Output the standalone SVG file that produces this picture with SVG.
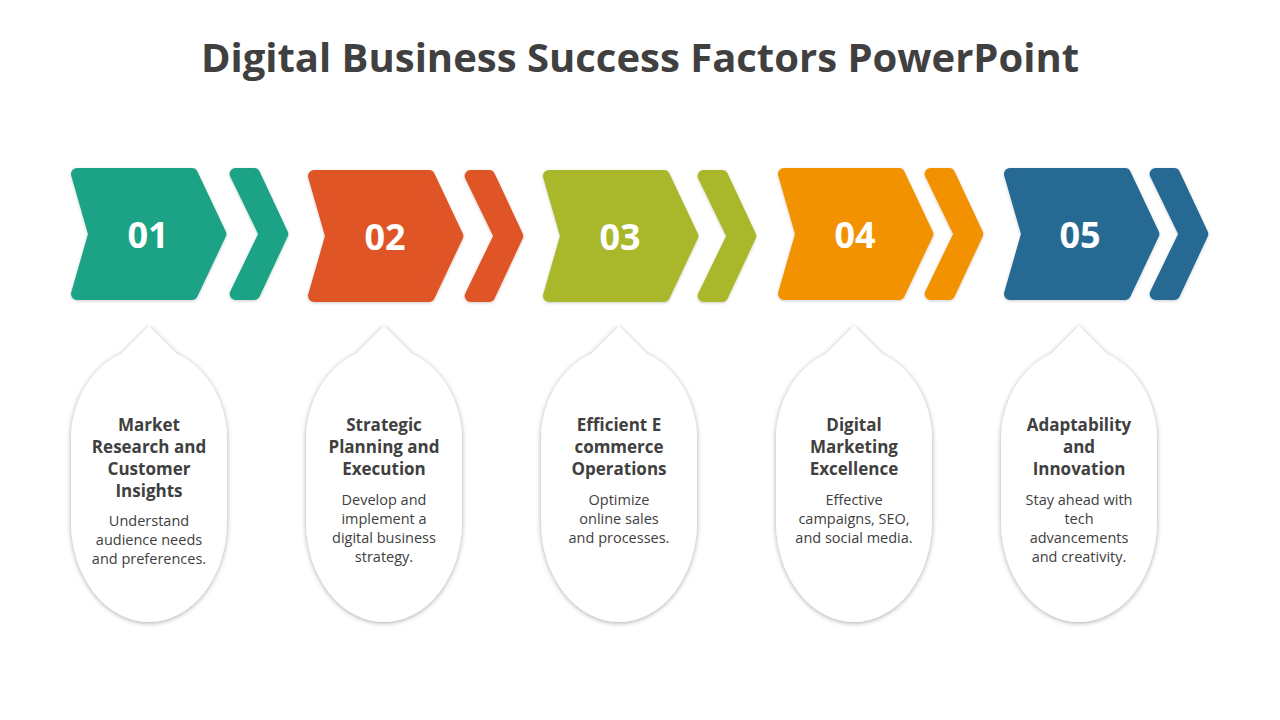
<svg xmlns="http://www.w3.org/2000/svg" width="1280" height="720" viewBox="0 0 1280 720">
<style>
.title{font-family:"Open Sans","Liberation Sans",sans-serif;font-weight:700;font-size:40px;fill:#404040;text-anchor:middle}
.num{font-family:"Open Sans","Liberation Sans",sans-serif;font-weight:700;font-size:36px;fill:#ffffff;text-anchor:middle}
.head{font-family:"Open Sans","Liberation Sans",sans-serif;font-weight:700;font-size:17px;fill:#404040;text-anchor:middle}
.body{font-family:"Open Sans","Liberation Sans",sans-serif;font-weight:400;font-size:14.5px;fill:#404040;text-anchor:middle}
.chev{stroke-width:12;stroke-linejoin:round}
.bubble{fill:#ffffff;filter:url(#bshadow)}
</style>
<defs>
<filter id="bshadow" x="-20%" y="-20%" width="140%" height="140%">
<feDropShadow dx="0" dy="1" stdDeviation="2.5" flood-color="#000000" flood-opacity="0.35"/>
</filter>
<filter id="cshadow" x="-20%" y="-20%" width="140%" height="140%">
<feDropShadow dx="0" dy="1" stdDeviation="1.5" flood-color="#000000" flood-opacity="0.2"/>
</filter>
<path id="main" d="M8,6 L123,6 L151.4,66 L123,126 L8,126 L25.2,66 Z"/>
<path id="small" d="M9.6,6 L28.2,6 L56.3,66 L28.2,126 L9.6,126 L38.7,66 Z"/>
<path id="bub" d="M0,326 L28,354.1 A78 92 0 0 1 78,440 L78,521 A78 101 0 0 1 -78,521 L-78,440 A78 92 0 0 1 -28,354.1 Z"/>
</defs>
<rect width="1280" height="720" fill="#ffffff"/>
<g id="title">
<text class="title" x="640" y="72">Digital Business Success Factors PowerPoint</text>
</g>
<g id="connectors"></g>
<g id="step1">
<g transform="translate(69,168)" fill="#1FA386" stroke="#1FA386" class="chev" filter="url(#cshadow)">
<use href="#main"/>
<use href="#small" x="157"/>
</g>
<text class="num" x="148" y="248">01</text>
<use href="#bub" x="149" class="bubble"/>
<text class="head" x="149" y="431">Market</text>
<text class="head" x="149" y="453">Research and</text>
<text class="head" x="149" y="475">Customer</text>
<text class="head" x="149" y="497">Insights</text>
<text class="body" x="149" y="526">Understand</text>
<text class="body" x="149" y="545">audience needs</text>
<text class="body" x="149" y="564">and preferences.</text>
</g>
<g id="step2">
<g transform="translate(306,170)" fill="#E05427" stroke="#E05427" class="chev" filter="url(#cshadow)">
<use href="#main"/>
<use href="#small" x="155"/>
</g>
<text class="num" x="385" y="250">02</text>
<use href="#bub" x="384" class="bubble"/>
<text class="head" x="384" y="431">Strategic</text>
<text class="head" x="384" y="453">Planning and</text>
<text class="head" x="384" y="475">Execution</text>
<text class="body" x="384" y="505">Develop and</text>
<text class="body" x="384" y="524">implement a</text>
<text class="body" x="384" y="543">digital business</text>
<text class="body" x="384" y="562">strategy.</text>
</g>
<g id="step3">
<g transform="translate(541,170)" fill="#A9B72A" stroke="#A9B72A" class="chev" filter="url(#cshadow)">
<use href="#main"/>
<use href="#small" x="153"/>
</g>
<text class="num" x="620" y="250">03</text>
<use href="#bub" x="619" class="bubble"/>
<text class="head" x="619" y="431">Efficient E</text>
<text class="head" x="619" y="453">commerce</text>
<text class="head" x="619" y="475">Operations</text>
<text class="body" x="619" y="505">Optimize</text>
<text class="body" x="619" y="524">online sales</text>
<text class="body" x="619" y="543">and processes.</text>
</g>
<g id="step4">
<g transform="translate(776,168)" fill="#F39200" stroke="#F39200" class="chev" filter="url(#cshadow)">
<use href="#main"/>
<use href="#small" x="145"/>
</g>
<text class="num" x="855" y="248">04</text>
<use href="#bub" x="854" class="bubble"/>
<text class="head" x="854" y="431">Digital</text>
<text class="head" x="854" y="453">Marketing</text>
<text class="head" x="854" y="475">Excellence</text>
<text class="body" x="854" y="505">Effective</text>
<text class="body" x="854" y="524">campaigns, SEO,</text>
<text class="body" x="854" y="543">and social media.</text>
</g>
<g id="step5">
<g transform="translate(1002,168)" fill="#276B93" stroke="#276B93" class="chev" filter="url(#cshadow)">
<use href="#main"/>
<use href="#small" x="144"/>
</g>
<text class="num" x="1080" y="248">05</text>
<use href="#bub" x="1079" class="bubble"/>
<text class="head" x="1079" y="431">Adaptability</text>
<text class="head" x="1079" y="453">and</text>
<text class="head" x="1079" y="475">Innovation</text>
<text class="body" x="1079" y="505">Stay ahead with</text>
<text class="body" x="1079" y="524">tech</text>
<text class="body" x="1079" y="543">advancements</text>
<text class="body" x="1079" y="562">and creativity.</text>
</g>
</svg>
